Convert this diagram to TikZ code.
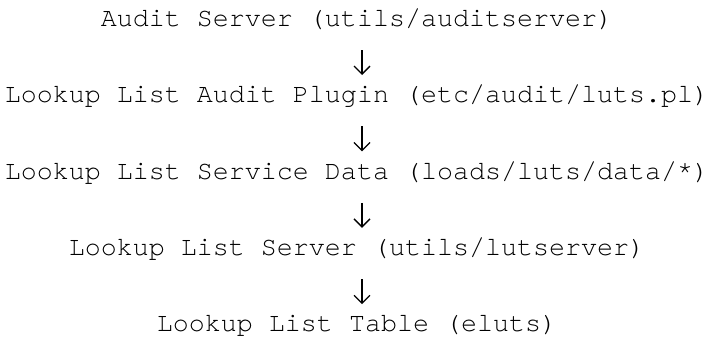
\documentclass[tikz,border=0pt]{standalone}
\usepackage{fontspec}
\setmainfont{TeX Gyre Cursor}
\usetikzlibrary{arrows.meta}
\begin{document}
\begin{tikzpicture}[x=1bp,y=-1bp,
  txt/.style={inner sep=0pt, anchor=base, font=\fontsize{26.67bp}{38bp}\selectfont, text=black},
  flow/.style={draw=black, line width=1.3bp, -{Straight Barb[length=8bp,width=16bp,line width=1.3bp]}}]
\useasboundingbox[fill=white] (0,0) rectangle (714,344);
\node[txt] (l1) at (357,26.2) {Audit Server (utils/auditserver)};
\node[txt] (l2) at (357,102.6) {Lookup List Audit Plugin (etc/audit/luts.pl)};
\node[txt] (l3) at (357,179.0) {Lookup List Service Data (loads/luts/data/*)};
\node[txt] (l4) at (357,255.4) {Lookup List Server (utils/lutserver)};
\node[txt] (l5) at (357,331.8) {Lookup List Table (eluts)};
\foreach \a/\b in {l1/l2,l2/l3,l3/l4,l4/l5}
  \draw[flow] ([xshift=5bp,yshift=-23.8bp]\a.base) -- ([xshift=5bp,yshift=27.6bp]\b.base);
\end{tikzpicture}
\end{document}
